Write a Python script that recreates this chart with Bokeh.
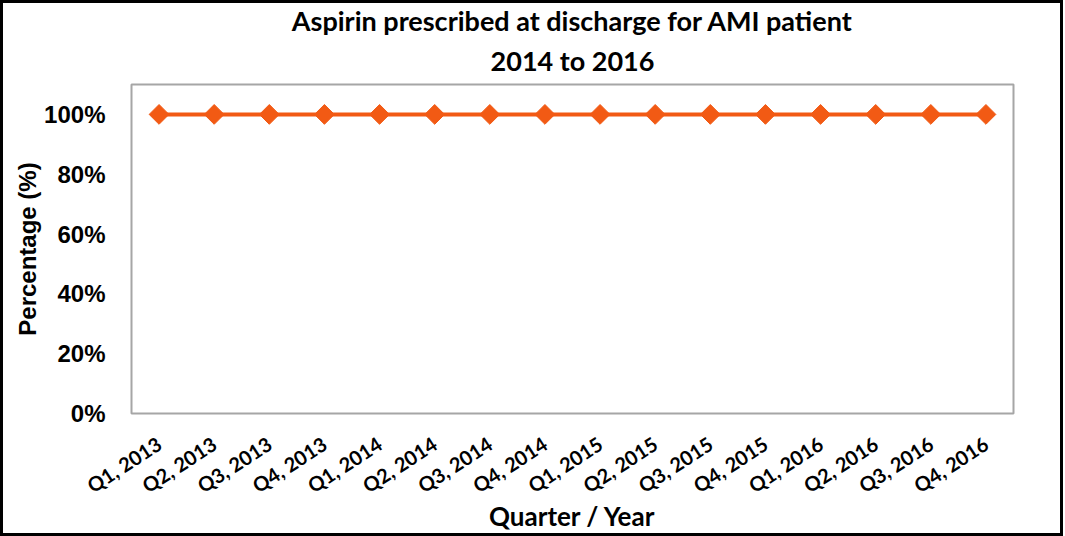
from bokeh.plotting import figure
from bokeh.models import FactorRange, Range1d, FixedTicker, NumeralTickFormatter, Title
from bokeh.embed import file_html
from bokeh.resources import INLINE
import math

quarters = ["Q1, 2013", "Q2, 2013", "Q3, 2013", "Q4, 2013",
            "Q1, 2014", "Q2, 2014", "Q3, 2014", "Q4, 2014",
            "Q1, 2015", "Q2, 2015", "Q3, 2015", "Q4, 2015",
            "Q1, 2016", "Q2, 2016", "Q3, 2016", "Q4, 2016"]
aspirin_pct = [1.0, 1.0, 1.0, 1.0, 1.0, 1.0, 1.0, 1.0,
               1.0, 1.0, 1.0, 1.0, 1.0, 1.0, 1.0, 1.0]
y_ticks = [0.0, 0.2, 0.4, 0.6, 0.8, 1.0]
title_main = "Aspirin prescribed at discharge for AMI patient"
title_sub = "2014 to 2016"

ORANGE = "#F25A14"

p = figure(width=1063, height=536, x_range=FactorRange(*quarters),
           y_range=Range1d(0, 1.1), output_backend="svg", toolbar_location=None,
           min_border_left=128, min_border_right=53, min_border_top=81,
           min_border_bottom=126)
p.styles = {"border": "3px solid black"}

p.add_layout(Title(text=title_sub, align="center", text_font="Lato",
                   text_font_size="27px", text_font_style="bold", text_color="#000000",
                   standoff=15), "above")
p.add_layout(Title(text=title_main, align="center",
                   text_font="Lato", text_font_size="27px", text_font_style="bold",
                   text_color="#000000", standoff=-5), "above")

p.line(x=quarters, y=aspirin_pct, line_color=ORANGE, line_width=4)
p.scatter(x=quarters, y=aspirin_pct, marker="square", size=14, angle=math.pi / 4,
          fill_color=ORANGE, line_color=ORANGE)

p.xgrid.visible = False
p.ygrid.visible = False
p.outline_line_color = "#A6A6A6"
p.outline_line_width = 2
p.background_fill_color = "white"
p.border_fill_color = "white"

p.yaxis.ticker = FixedTicker(ticks=y_ticks)
p.yaxis.formatter = NumeralTickFormatter(format="0%")
p.yaxis.axis_line_color = None
p.yaxis.major_tick_line_color = None
p.yaxis.minor_tick_line_color = None
p.yaxis.major_tick_out = 0
p.yaxis.major_label_text_font = "Liberation Sans"
p.yaxis.major_label_text_font_style = "bold"
p.yaxis.major_label_text_font_size = "24px"
p.yaxis.major_label_text_color = "#000000"
p.yaxis.major_label_standoff = 26
p.yaxis.axis_label = "Percentage (%)"
p.yaxis.axis_label_text_font = "Liberation Sans"
p.yaxis.axis_label_text_font_style = "bold"
p.yaxis.axis_label_text_font_size = "24px"
p.yaxis.axis_label_text_color = "#000000"
p.yaxis.axis_label_standoff = 0

p.xaxis.axis_line_color = None
p.xaxis.major_tick_line_color = None
p.xaxis.major_tick_out = 0
p.xaxis.major_label_orientation = math.radians(33)
p.xaxis.major_label_text_font = "Lato"
p.xaxis.major_label_text_font_style = "bold"
p.xaxis.major_label_text_font_size = "20px"
p.xaxis.major_label_text_color = "#000000"
p.xaxis.major_label_standoff = 28
p.xaxis.axis_label = "Quarter / Year"
p.xaxis.axis_label_text_font = "Lato"
p.xaxis.axis_label_text_font_style = "bold"
p.xaxis.axis_label_text_font_size = "26px"
p.xaxis.axis_label_text_color = "#000000"
p.xaxis.axis_label_standoff = -10

open("out.html", "w").write(file_html(p, INLINE))
